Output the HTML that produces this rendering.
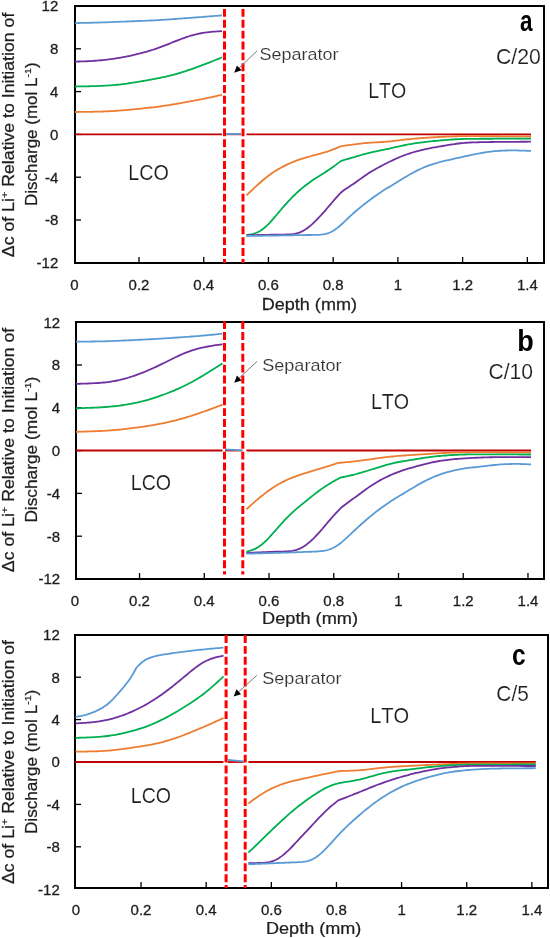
<!DOCTYPE html>
<html><head><meta charset="utf-8"><style>
html,body{margin:0;padding:0;background:#fff;}
svg{display:block;will-change:transform;font-family:"Liberation Sans",sans-serif;}
text{font-kerning:none;}
</style></head><body>
<svg width="550" height="938" viewBox="0 0 550 938">
<rect width="550" height="938" fill="#fff"/>
<rect x="75" y="6" width="469" height="257" fill="none" stroke="#000" stroke-width="2"/>
<line x1="139.02" y1="263" x2="139.02" y2="257" stroke="#000" stroke-width="1.3"/>
<line x1="203.74" y1="263" x2="203.74" y2="257" stroke="#000" stroke-width="1.3"/>
<line x1="268.46" y1="263" x2="268.46" y2="257" stroke="#000" stroke-width="1.3"/>
<line x1="333.18" y1="263" x2="333.18" y2="257" stroke="#000" stroke-width="1.3"/>
<line x1="397.90" y1="263" x2="397.90" y2="257" stroke="#000" stroke-width="1.3"/>
<line x1="462.62" y1="263" x2="462.62" y2="257" stroke="#000" stroke-width="1.3"/>
<line x1="527.34" y1="263" x2="527.34" y2="257" stroke="#000" stroke-width="1.3"/>
<line x1="75" y1="220.00" x2="81" y2="220.00" stroke="#000" stroke-width="1.3"/>
<line x1="75" y1="177.20" x2="81" y2="177.20" stroke="#000" stroke-width="1.3"/>
<line x1="75" y1="134.40" x2="81" y2="134.40" stroke="#000" stroke-width="1.3"/>
<line x1="75" y1="91.60" x2="81" y2="91.60" stroke="#000" stroke-width="1.3"/>
<line x1="75" y1="48.80" x2="81" y2="48.80" stroke="#000" stroke-width="1.3"/>
<path d="M75.0 134.30 L222.0 134.30" fill="none" stroke="#c00000" stroke-width="1.8"/>
<path d="M226.2 134.30 L240.9 134.30" fill="none" stroke="#c00000" stroke-width="1.8"/>
<path d="M246.5 134.30 L531.0 134.30" fill="none" stroke="#c00000" stroke-width="1.8"/>
<path d="M75.0 112.00 L77.0 111.98 L79.0 111.95 L81.0 111.93 L83.0 111.90 L85.0 111.87 L87.0 111.85 L89.0 111.82 L91.0 111.79 L93.0 111.75 L95.0 111.71 L97.0 111.67 L99.0 111.62 L101.0 111.56 L103.0 111.50 L105.0 111.42 L107.0 111.34 L109.0 111.25 L111.0 111.14 L113.0 111.03 L115.0 110.90 L117.0 110.76 L119.0 110.62 L121.0 110.47 L123.0 110.31 L125.0 110.14 L127.0 109.97 L129.0 109.79 L131.0 109.61 L133.0 109.42 L135.0 109.22 L137.0 109.03 L139.0 108.82 L141.0 108.62 L143.0 108.41 L145.0 108.19 L147.0 107.97 L149.0 107.74 L151.0 107.51 L153.0 107.27 L155.0 107.03 L157.0 106.78 L159.0 106.52 L161.0 106.25 L163.0 105.97 L165.0 105.68 L167.0 105.39 L169.0 105.08 L171.0 104.76 L173.0 104.43 L175.0 104.09 L177.0 103.74 L179.0 103.39 L181.0 103.03 L183.0 102.67 L185.0 102.31 L187.0 101.94 L189.0 101.57 L191.0 101.20 L193.0 100.83 L195.0 100.45 L197.0 100.08 L199.0 99.69 L201.0 99.31 L203.0 98.91 L205.0 98.51 L207.0 98.11 L209.0 97.69 L211.0 97.27 L213.0 96.83 L215.0 96.39 L217.0 95.94 L219.0 95.49 L221.0 95.03 L222.0 94.80" fill="none" stroke="#ed7d31" stroke-width="1.8" stroke-linejoin="round"/>
<path d="M246.5 195.30 L248.5 193.40 L250.5 191.50 L252.5 189.60 L254.5 187.71 L256.5 185.84 L258.5 184.00 L260.5 182.21 L262.5 180.47 L264.5 178.79 L266.5 177.20 L268.5 175.67 L270.5 174.23 L272.5 172.85 L274.5 171.55 L276.5 170.31 L278.5 169.12 L280.5 167.98 L282.5 166.90 L284.5 165.85 L286.5 164.85 L288.5 163.89 L290.5 162.98 L292.5 162.12 L294.5 161.31 L296.5 160.54 L298.5 159.83 L300.5 159.16 L302.5 158.53 L304.5 157.93 L306.5 157.36 L308.5 156.80 L310.5 156.25 L312.5 155.70 L314.5 155.16 L316.5 154.62 L318.5 154.08 L320.5 153.53 L322.5 152.98 L324.5 152.40 L326.5 151.80 L328.5 151.15 L330.5 150.45 L332.5 149.69 L334.5 148.89 L336.5 148.05 L338.5 147.18 L340.5 146.30 L342.5 146.02 L344.5 145.73 L346.5 145.45 L348.5 145.17 L350.5 144.90 L352.5 144.63 L354.5 144.36 L356.5 144.10 L358.5 143.86 L360.5 143.62 L362.5 143.40 L364.5 143.20 L366.5 143.02 L368.5 142.86 L370.5 142.72 L372.5 142.59 L374.5 142.47 L376.5 142.35 L378.5 142.24 L380.5 142.12 L382.5 141.99 L384.5 141.84 L386.5 141.67 L388.5 141.48 L390.5 141.28 L392.5 141.06 L394.5 140.83 L396.5 140.60 L398.5 140.36 L400.5 140.13 L402.5 139.90 L404.5 139.67 L406.5 139.46 L408.5 139.25 L410.5 139.05 L412.5 138.85 L414.5 138.67 L416.5 138.50 L418.5 138.33 L420.5 138.17 L422.5 138.02 L424.5 137.87 L426.5 137.74 L428.5 137.60 L430.5 137.48 L432.5 137.36 L434.5 137.24 L436.5 137.13 L438.5 137.02 L440.5 136.92 L442.5 136.82 L444.5 136.73 L446.5 136.64 L448.5 136.55 L450.5 136.47 L452.5 136.40 L454.5 136.33 L456.5 136.27 L458.5 136.22 L460.5 136.18 L462.5 136.14 L464.5 136.12 L466.5 136.11 L468.5 136.10 L470.5 136.10 L472.5 136.10 L474.5 136.10 L476.5 136.11 L478.5 136.12 L480.5 136.13 L482.5 136.14 L484.5 136.16 L486.5 136.17 L488.5 136.18 L490.5 136.20 L492.5 136.21 L494.5 136.22 L496.5 136.24 L498.5 136.25 L500.5 136.27 L502.5 136.29 L504.5 136.30 L506.5 136.32 L508.5 136.33 L510.5 136.35 L512.5 136.37 L514.5 136.38 L516.5 136.40 L518.5 136.41 L520.5 136.43 L522.5 136.44 L524.5 136.46 L526.5 136.47 L528.5 136.48 L530.5 136.50 L531.0 136.50" fill="none" stroke="#ed7d31" stroke-width="1.8" stroke-linejoin="round"/>
<path d="M75.0 86.50 L77.0 86.47 L79.0 86.43 L81.0 86.40 L83.0 86.36 L85.0 86.33 L87.0 86.29 L89.0 86.25 L91.0 86.20 L93.0 86.16 L95.0 86.10 L97.0 86.04 L99.0 85.97 L101.0 85.89 L103.0 85.80 L105.0 85.70 L107.0 85.58 L109.0 85.45 L111.0 85.30 L113.0 85.13 L115.0 84.95 L117.0 84.75 L119.0 84.54 L121.0 84.31 L123.0 84.07 L125.0 83.81 L127.0 83.54 L129.0 83.26 L131.0 82.97 L133.0 82.66 L135.0 82.35 L137.0 82.02 L139.0 81.69 L141.0 81.34 L143.0 80.99 L145.0 80.63 L147.0 80.27 L149.0 79.90 L151.0 79.53 L153.0 79.16 L155.0 78.78 L157.0 78.40 L159.0 78.01 L161.0 77.61 L163.0 77.19 L165.0 76.76 L167.0 76.31 L169.0 75.85 L171.0 75.36 L173.0 74.85 L175.0 74.32 L177.0 73.77 L179.0 73.19 L181.0 72.58 L183.0 71.96 L185.0 71.31 L187.0 70.65 L189.0 69.97 L191.0 69.28 L193.0 68.58 L195.0 67.87 L197.0 67.15 L199.0 66.43 L201.0 65.69 L203.0 64.95 L205.0 64.20 L207.0 63.43 L209.0 62.65 L211.0 61.85 L213.0 61.04 L215.0 60.23 L217.0 59.40 L219.0 58.56 L221.0 57.72 L222.0 57.30" fill="none" stroke="#00b050" stroke-width="1.8" stroke-linejoin="round"/>
<path d="M246.5 235.00 L248.5 234.75 L250.5 234.44 L252.5 234.04 L254.5 233.49 L256.5 232.77 L258.5 231.83 L260.5 230.69 L262.5 229.32 L264.5 227.74 L266.5 225.97 L268.5 224.02 L270.5 221.92 L272.5 219.70 L274.5 217.39 L276.5 215.04 L278.5 212.66 L280.5 210.28 L282.5 207.93 L284.5 205.62 L286.5 203.36 L288.5 201.16 L290.5 199.04 L292.5 196.98 L294.5 195.01 L296.5 193.11 L298.5 191.28 L300.5 189.53 L302.5 187.85 L304.5 186.23 L306.5 184.67 L308.5 183.17 L310.5 181.73 L312.5 180.34 L314.5 179.00 L316.5 177.70 L318.5 176.43 L320.5 175.17 L322.5 173.92 L324.5 172.65 L326.5 171.37 L328.5 170.05 L330.5 168.69 L332.5 167.29 L334.5 165.86 L336.5 164.39 L338.5 162.90 L340.5 161.40 L342.3 160.51 L344.3 159.94 L346.3 159.36 L348.3 158.78 L350.3 158.20 L352.3 157.61 L354.3 157.02 L356.3 156.43 L358.3 155.84 L360.3 155.25 L362.3 154.68 L364.3 154.13 L366.3 153.60 L368.3 153.10 L370.3 152.62 L372.3 152.16 L374.3 151.73 L376.3 151.31 L378.3 150.89 L380.3 150.48 L382.3 150.07 L384.3 149.64 L386.3 149.21 L388.3 148.77 L390.3 148.32 L392.3 147.86 L394.3 147.41 L396.3 146.96 L398.3 146.51 L400.3 146.08 L402.3 145.66 L404.3 145.25 L406.3 144.87 L408.3 144.49 L410.3 144.14 L412.3 143.80 L414.3 143.48 L416.3 143.18 L418.3 142.89 L420.3 142.61 L422.3 142.35 L424.3 142.10 L426.3 141.86 L428.3 141.63 L430.3 141.41 L432.3 141.20 L434.3 140.99 L436.3 140.80 L438.3 140.61 L440.3 140.43 L442.3 140.26 L444.3 140.09 L446.3 139.93 L448.3 139.78 L450.3 139.63 L452.3 139.50 L454.3 139.37 L456.3 139.26 L458.3 139.16 L460.3 139.07 L462.3 139.00 L464.3 138.94 L466.3 138.90 L468.3 138.86 L470.3 138.84 L472.3 138.82 L474.3 138.80 L476.3 138.79 L478.3 138.78 L480.3 138.77 L482.3 138.76 L484.3 138.76 L486.3 138.75 L488.3 138.74 L490.3 138.73 L492.3 138.73 L494.3 138.72 L496.3 138.71 L498.3 138.71 L500.3 138.70 L502.3 138.69 L504.3 138.69 L506.3 138.68 L508.3 138.68 L510.3 138.67 L512.3 138.66 L514.3 138.66 L516.3 138.65 L518.3 138.65 L520.3 138.64 L522.3 138.63 L524.3 138.63 L526.3 138.62 L528.3 138.61 L530.3 138.60 L531.0 138.60" fill="none" stroke="#00b050" stroke-width="1.8" stroke-linejoin="round"/>
<path d="M75.0 61.60 L77.0 61.55 L79.0 61.50 L81.0 61.45 L83.0 61.38 L85.0 61.31 L87.0 61.23 L89.0 61.14 L91.0 61.03 L93.0 60.90 L95.0 60.76 L97.0 60.61 L99.0 60.44 L101.0 60.25 L103.0 60.05 L105.0 59.84 L107.0 59.61 L109.0 59.36 L111.0 59.10 L113.0 58.83 L115.0 58.54 L117.0 58.23 L119.0 57.90 L121.0 57.56 L123.0 57.20 L125.0 56.82 L127.0 56.42 L129.0 56.01 L131.0 55.58 L133.0 55.13 L135.0 54.66 L137.0 54.18 L139.0 53.68 L141.0 53.17 L143.0 52.64 L145.0 52.10 L147.0 51.54 L149.0 50.97 L151.0 50.37 L153.0 49.75 L155.0 49.10 L157.0 48.42 L159.0 47.70 L161.0 46.96 L163.0 46.20 L165.0 45.42 L167.0 44.62 L169.0 43.81 L171.0 43.00 L173.0 42.19 L175.0 41.38 L177.0 40.58 L179.0 39.80 L181.0 39.03 L183.0 38.29 L185.0 37.57 L187.0 36.89 L189.0 36.24 L191.0 35.63 L193.0 35.06 L195.0 34.54 L197.0 34.07 L199.0 33.63 L201.0 33.25 L203.0 32.90 L205.0 32.60 L207.0 32.33 L209.0 32.10 L211.0 31.89 L213.0 31.71 L215.0 31.55 L217.0 31.41 L219.0 31.28 L221.0 31.16 L222.0 31.10" fill="none" stroke="#7030a0" stroke-width="1.8" stroke-linejoin="round"/>
<path d="M246.5 235.30 L248.5 235.24 L250.5 235.19 L252.5 235.14 L254.5 235.09 L256.5 235.04 L258.5 234.99 L260.5 234.95 L262.5 234.91 L264.5 234.87 L266.5 234.83 L268.5 234.79 L270.5 234.76 L272.5 234.72 L274.5 234.69 L276.5 234.66 L278.5 234.63 L280.5 234.61 L282.5 234.58 L284.5 234.54 L286.5 234.49 L288.5 234.41 L290.5 234.28 L292.5 234.09 L294.5 233.80 L296.5 233.39 L298.5 232.82 L300.5 232.08 L302.5 231.14 L304.5 230.01 L306.5 228.70 L308.5 227.23 L310.5 225.60 L312.5 223.84 L314.5 221.96 L316.5 219.98 L318.5 217.90 L320.5 215.75 L322.5 213.54 L324.5 211.28 L326.5 208.98 L328.5 206.66 L330.5 204.33 L332.5 202.01 L334.5 199.71 L336.5 197.44 L338.5 195.21 L340.5 193.00 L342.5 191.22 L344.5 189.86 L346.5 188.52 L348.5 187.20 L350.5 185.87 L352.5 184.53 L354.5 183.16 L356.5 181.76 L358.5 180.33 L360.5 178.89 L362.5 177.46 L364.5 176.05 L366.5 174.68 L368.5 173.35 L370.5 172.07 L372.5 170.85 L374.5 169.67 L376.5 168.53 L378.5 167.42 L380.5 166.35 L382.5 165.30 L384.5 164.27 L386.5 163.26 L388.5 162.27 L390.5 161.30 L392.5 160.35 L394.5 159.42 L396.5 158.52 L398.5 157.64 L400.5 156.79 L402.5 155.98 L404.5 155.21 L406.5 154.47 L408.5 153.77 L410.5 153.12 L412.5 152.50 L414.5 151.91 L416.5 151.36 L418.5 150.83 L420.5 150.33 L422.5 149.84 L424.5 149.38 L426.5 148.94 L428.5 148.52 L430.5 148.11 L432.5 147.73 L434.5 147.37 L436.5 147.02 L438.5 146.67 L440.5 146.33 L442.5 145.99 L444.5 145.65 L446.5 145.31 L448.5 144.98 L450.5 144.65 L452.5 144.33 L454.5 144.03 L456.5 143.74 L458.5 143.49 L460.5 143.26 L462.5 143.06 L464.5 142.89 L466.5 142.74 L468.5 142.62 L470.5 142.52 L472.5 142.43 L474.5 142.36 L476.5 142.29 L478.5 142.24 L480.5 142.19 L482.5 142.14 L484.5 142.10 L486.5 142.07 L488.5 142.03 L490.5 142.01 L492.5 141.98 L494.5 141.96 L496.5 141.93 L498.5 141.92 L500.5 141.90 L502.5 141.88 L504.5 141.87 L506.5 141.85 L508.5 141.84 L510.5 141.83 L512.5 141.81 L514.5 141.80 L516.5 141.79 L518.5 141.78 L520.5 141.77 L522.5 141.75 L524.5 141.74 L526.5 141.73 L528.5 141.72 L530.5 141.70 L531.0 141.70" fill="none" stroke="#7030a0" stroke-width="1.8" stroke-linejoin="round"/>
<path d="M75.0 23.10 L77.0 23.06 L79.0 23.01 L81.0 22.97 L83.0 22.93 L85.0 22.88 L87.0 22.84 L89.0 22.79 L91.0 22.74 L93.0 22.69 L95.0 22.64 L97.0 22.59 L99.0 22.53 L101.0 22.47 L103.0 22.41 L105.0 22.34 L107.0 22.28 L109.0 22.20 L111.0 22.13 L113.0 22.05 L115.0 21.97 L117.0 21.89 L119.0 21.81 L121.0 21.72 L123.0 21.64 L125.0 21.56 L127.0 21.48 L129.0 21.40 L131.0 21.32 L133.0 21.24 L135.0 21.16 L137.0 21.09 L139.0 21.01 L141.0 20.94 L143.0 20.86 L145.0 20.78 L147.0 20.70 L149.0 20.61 L151.0 20.51 L153.0 20.41 L155.0 20.31 L157.0 20.20 L159.0 20.08 L161.0 19.96 L163.0 19.84 L165.0 19.71 L167.0 19.57 L169.0 19.43 L171.0 19.29 L173.0 19.15 L175.0 19.01 L177.0 18.86 L179.0 18.71 L181.0 18.57 L183.0 18.42 L185.0 18.27 L187.0 18.12 L189.0 17.97 L191.0 17.81 L193.0 17.66 L195.0 17.51 L197.0 17.35 L199.0 17.20 L201.0 17.05 L203.0 16.89 L205.0 16.73 L207.0 16.58 L209.0 16.42 L211.0 16.27 L213.0 16.11 L215.0 15.95 L217.0 15.79 L219.0 15.64 L221.0 15.48 L222.0 15.40" fill="none" stroke="#5b9bd5" stroke-width="1.8" stroke-linejoin="round"/>
<path d="M226.2 134.00 L240.9 134.00" fill="none" stroke="#5b9bd5" stroke-width="1.8"/>
<path d="M246.5 236.00 L248.5 235.96 L250.5 235.93 L252.5 235.89 L254.5 235.86 L256.5 235.82 L258.5 235.79 L260.5 235.76 L262.5 235.73 L264.5 235.70 L266.5 235.67 L268.5 235.64 L270.5 235.61 L272.5 235.58 L274.5 235.56 L276.5 235.53 L278.5 235.50 L280.5 235.47 L282.5 235.43 L284.5 235.40 L286.5 235.37 L288.5 235.33 L290.5 235.30 L292.5 235.26 L294.5 235.22 L296.5 235.18 L298.5 235.14 L300.5 235.11 L302.5 235.07 L304.5 235.04 L306.5 235.02 L308.5 235.00 L310.5 234.98 L312.5 234.96 L314.5 234.93 L316.5 234.88 L318.5 234.80 L320.5 234.67 L322.5 234.45 L324.5 234.13 L326.5 233.68 L328.5 233.05 L330.5 232.24 L332.5 231.22 L334.5 230.00 L336.5 228.58 L338.5 226.99 L340.5 225.27 L342.5 223.46 L344.5 221.58 L346.5 219.68 L348.5 217.77 L350.5 215.89 L352.5 214.06 L354.5 212.28 L356.5 210.55 L358.5 208.87 L360.5 207.24 L362.5 205.65 L364.5 204.08 L366.5 202.52 L368.5 200.99 L370.5 199.49 L372.5 198.00 L374.5 196.55 L376.5 195.14 L378.5 193.76 L380.5 192.42 L382.5 191.11 L384.5 189.84 L386.5 188.60 L388.5 187.38 L390.5 186.16 L392.5 184.95 L394.5 183.74 L396.5 182.51 L398.5 181.27 L400.5 180.03 L402.5 178.80 L404.5 177.59 L406.5 176.40 L408.5 175.23 L410.5 174.09 L412.5 172.98 L414.5 171.91 L416.5 170.88 L418.5 169.89 L420.5 168.95 L422.5 168.05 L424.5 167.20 L426.5 166.40 L428.5 165.65 L430.5 164.95 L432.5 164.28 L434.5 163.65 L436.5 163.06 L438.5 162.50 L440.5 161.97 L442.5 161.45 L444.5 160.96 L446.5 160.49 L448.5 160.02 L450.5 159.57 L452.5 159.12 L454.5 158.67 L456.5 158.23 L458.5 157.79 L460.5 157.34 L462.5 156.89 L464.5 156.45 L466.5 156.00 L468.5 155.56 L470.5 155.13 L472.5 154.71 L474.5 154.30 L476.5 153.90 L478.5 153.52 L480.5 153.16 L482.5 152.81 L484.5 152.49 L486.5 152.19 L488.5 151.91 L490.5 151.66 L492.5 151.43 L494.5 151.22 L496.5 151.04 L498.5 150.89 L500.5 150.76 L502.5 150.65 L504.5 150.57 L506.5 150.51 L508.5 150.47 L510.5 150.45 L512.5 150.44 L514.5 150.45 L516.5 150.47 L518.5 150.50 L520.5 150.54 L522.5 150.60 L524.5 150.67 L526.5 150.76 L528.5 150.87 L530.5 150.97 L531.0 151.00" fill="none" stroke="#5b9bd5" stroke-width="1.8" stroke-linejoin="round"/>
<line x1="224.5" y1="8.9" x2="224.5" y2="263" stroke="#ff0000" stroke-width="3" stroke-dasharray="7.9 2.97"/>
<line x1="243.0" y1="8.9" x2="243.0" y2="263" stroke="#ff0000" stroke-width="3" stroke-dasharray="7.9 2.97"/>
<text x="74.30" y="289.6" text-anchor="middle" font-size="15" fill="#1e1e1e" stroke="#1e1e1e" stroke-width="0.3">0</text>
<text x="139.02" y="289.6" text-anchor="middle" font-size="15" fill="#1e1e1e" stroke="#1e1e1e" stroke-width="0.3">0.2</text>
<text x="203.74" y="289.6" text-anchor="middle" font-size="15" fill="#1e1e1e" stroke="#1e1e1e" stroke-width="0.3">0.4</text>
<text x="268.46" y="289.6" text-anchor="middle" font-size="15" fill="#1e1e1e" stroke="#1e1e1e" stroke-width="0.3">0.6</text>
<text x="333.18" y="289.6" text-anchor="middle" font-size="15" fill="#1e1e1e" stroke="#1e1e1e" stroke-width="0.3">0.8</text>
<text x="397.90" y="289.6" text-anchor="middle" font-size="15" fill="#1e1e1e" stroke="#1e1e1e" stroke-width="0.3">1</text>
<text x="462.62" y="289.6" text-anchor="middle" font-size="15" fill="#1e1e1e" stroke="#1e1e1e" stroke-width="0.3">1.2</text>
<text x="527.34" y="289.6" text-anchor="middle" font-size="15" fill="#1e1e1e" stroke="#1e1e1e" stroke-width="0.3">1.4</text>
<text x="58.3" y="268.20" text-anchor="end" font-size="15" fill="#1e1e1e" stroke="#1e1e1e" stroke-width="0.3">-12</text>
<text x="58.3" y="225.40" text-anchor="end" font-size="15" fill="#1e1e1e" stroke="#1e1e1e" stroke-width="0.3">-8</text>
<text x="58.3" y="182.60" text-anchor="end" font-size="15" fill="#1e1e1e" stroke="#1e1e1e" stroke-width="0.3">-4</text>
<text x="58.3" y="139.80" text-anchor="end" font-size="15" fill="#1e1e1e" stroke="#1e1e1e" stroke-width="0.3">0</text>
<text x="58.3" y="97.00" text-anchor="end" font-size="15" fill="#1e1e1e" stroke="#1e1e1e" stroke-width="0.3">4</text>
<text x="58.3" y="54.20" text-anchor="end" font-size="15" fill="#1e1e1e" stroke="#1e1e1e" stroke-width="0.3">8</text>
<text x="58.3" y="11.40" text-anchor="end" font-size="15" fill="#1e1e1e" stroke="#1e1e1e" stroke-width="0.3">12</text>
<text transform="matrix(0.7502 0 0 1 520.04 31.00)" font-size="30" font-weight="bold" fill="#000" >a</text>
<text transform="matrix(0.9889 0 0 1 495.92 63.60)" font-size="21.5" font-weight="normal" fill="#1e1e1e" stroke="#fff" stroke-width="0.15">C/20</text>
<text transform="matrix(1.0584 0 0 1 259.38 60.20)" font-size="17" font-weight="normal" fill="#333333" stroke="#fff" stroke-width="0.15">Separator</text>
<text transform="matrix(0.9098 0 0 1 368.20 98.20)" font-size="21.5" font-weight="normal" fill="#1e1e1e" stroke="#fff" stroke-width="0.15">LTO</text>
<text transform="matrix(0.9175 0 0 1 128.18 180.20)" font-size="21.5" font-weight="normal" fill="#1e1e1e" stroke="#fff" stroke-width="0.15">LCO</text>
<text transform="matrix(1.0942 0 0 1 261.72 310.30)" font-size="16.5" font-weight="normal" fill="#1e1e1e" stroke="#1e1e1e" stroke-width="0.25">Depth (mm)</text>
<line x1="257" y1="50.9" x2="239.26" y2="67.86" stroke="#7a7a7a" stroke-width="1"/><path d="M234.2 72.7 L236.91 65.40 L241.61 70.32 Z" fill="#000"/>
<text transform="translate(13.70 257.13) rotate(-90) scale(1.1211 1)" font-size="15.8" fill="#1e1e1e" stroke="#1e1e1e" stroke-width="0.25"><tspan font-size="15.80" dy="0.00">Δc of Li</tspan><tspan font-size="9.80" dy="-6.00">+</tspan><tspan font-size="15.80" dy="6.00"> Relative to Initiation of</tspan></text>
<text transform="translate(36.80 206.00) rotate(-90) scale(1.0769 1)" font-size="15.8" fill="#1e1e1e" stroke="#1e1e1e" stroke-width="0.25"><tspan font-size="15.80" dy="0.00">Discharge (mol L</tspan><tspan font-size="9.80" dy="-6.00">-1</tspan><tspan font-size="15.80" dy="6.00">)</tspan></text>
<rect x="76" y="322" width="468" height="257" fill="none" stroke="#000" stroke-width="2"/>
<line x1="139.54" y1="579" x2="139.54" y2="573" stroke="#000" stroke-width="1.3"/>
<line x1="204.28" y1="579" x2="204.28" y2="573" stroke="#000" stroke-width="1.3"/>
<line x1="269.02" y1="579" x2="269.02" y2="573" stroke="#000" stroke-width="1.3"/>
<line x1="333.76" y1="579" x2="333.76" y2="573" stroke="#000" stroke-width="1.3"/>
<line x1="398.50" y1="579" x2="398.50" y2="573" stroke="#000" stroke-width="1.3"/>
<line x1="463.24" y1="579" x2="463.24" y2="573" stroke="#000" stroke-width="1.3"/>
<line x1="527.98" y1="579" x2="527.98" y2="573" stroke="#000" stroke-width="1.3"/>
<line x1="76" y1="536.20" x2="82" y2="536.20" stroke="#000" stroke-width="1.3"/>
<line x1="76" y1="493.40" x2="82" y2="493.40" stroke="#000" stroke-width="1.3"/>
<line x1="76" y1="450.60" x2="82" y2="450.60" stroke="#000" stroke-width="1.3"/>
<line x1="76" y1="407.80" x2="82" y2="407.80" stroke="#000" stroke-width="1.3"/>
<line x1="76" y1="365.00" x2="82" y2="365.00" stroke="#000" stroke-width="1.3"/>
<path d="M76.0 450.50 L222.5 450.50" fill="none" stroke="#c00000" stroke-width="1.8"/>
<path d="M225.0 450.50 L242.3 450.50" fill="none" stroke="#c00000" stroke-width="1.8"/>
<path d="M246.4 450.50 L531.0 450.50" fill="none" stroke="#c00000" stroke-width="1.8"/>
<path d="M76.0 431.80 L78.0 431.74 L80.0 431.69 L82.0 431.63 L84.0 431.58 L86.0 431.52 L88.0 431.46 L90.0 431.40 L92.0 431.33 L94.0 431.26 L96.0 431.19 L98.0 431.11 L100.0 431.02 L102.0 430.92 L104.0 430.81 L106.0 430.70 L108.0 430.57 L110.0 430.43 L112.0 430.27 L114.0 430.11 L116.0 429.93 L118.0 429.75 L120.0 429.55 L122.0 429.34 L124.0 429.12 L126.0 428.90 L128.0 428.67 L130.0 428.43 L132.0 428.18 L134.0 427.93 L136.0 427.67 L138.0 427.40 L140.0 427.13 L142.0 426.84 L144.0 426.55 L146.0 426.25 L148.0 425.94 L150.0 425.62 L152.0 425.29 L154.0 424.94 L156.0 424.59 L158.0 424.22 L160.0 423.84 L162.0 423.44 L164.0 423.03 L166.0 422.61 L168.0 422.17 L170.0 421.71 L172.0 421.24 L174.0 420.76 L176.0 420.26 L178.0 419.74 L180.0 419.20 L182.0 418.64 L184.0 418.07 L186.0 417.48 L188.0 416.87 L190.0 416.25 L192.0 415.61 L194.0 414.95 L196.0 414.29 L198.0 413.61 L200.0 412.92 L202.0 412.22 L204.0 411.51 L206.0 410.80 L208.0 410.07 L210.0 409.34 L212.0 408.60 L214.0 407.85 L216.0 407.09 L218.0 406.33 L220.0 405.56 L222.0 404.79 L222.5 404.60" fill="none" stroke="#ed7d31" stroke-width="1.8" stroke-linejoin="round"/>
<path d="M246.4 509.30 L248.4 507.49 L250.4 505.68 L252.4 503.90 L254.4 502.14 L256.4 500.41 L258.4 498.71 L260.4 497.05 L262.4 495.43 L264.4 493.85 L266.4 492.31 L268.4 490.83 L270.4 489.40 L272.4 488.03 L274.4 486.73 L276.4 485.48 L278.4 484.30 L280.4 483.18 L282.4 482.12 L284.4 481.11 L286.4 480.16 L288.4 479.27 L290.4 478.41 L292.4 477.61 L294.4 476.84 L296.4 476.11 L298.4 475.40 L300.4 474.72 L302.4 474.06 L304.4 473.42 L306.4 472.79 L308.4 472.16 L310.4 471.55 L312.4 470.94 L314.4 470.33 L316.4 469.73 L318.4 469.13 L320.4 468.53 L322.4 467.93 L324.4 467.32 L326.4 466.71 L328.4 466.09 L330.4 465.45 L332.4 464.81 L334.4 464.16 L336.4 463.50 L338.2 462.90 L340.2 462.73 L342.2 462.56 L344.2 462.39 L346.2 462.22 L348.2 462.04 L350.2 461.86 L352.2 461.66 L354.2 461.45 L356.2 461.22 L358.2 460.98 L360.2 460.72 L362.2 460.45 L364.2 460.17 L366.2 459.89 L368.2 459.61 L370.2 459.32 L372.2 459.04 L374.2 458.76 L376.2 458.48 L378.2 458.21 L380.2 457.94 L382.2 457.68 L384.2 457.43 L386.2 457.19 L388.2 456.95 L390.2 456.73 L392.2 456.52 L394.2 456.32 L396.2 456.13 L398.2 455.96 L400.2 455.79 L402.2 455.64 L404.2 455.49 L406.2 455.35 L408.2 455.22 L410.2 455.09 L412.2 454.96 L414.2 454.83 L416.2 454.70 L418.2 454.57 L420.2 454.44 L422.2 454.31 L424.2 454.18 L426.2 454.05 L428.2 453.92 L430.2 453.80 L432.2 453.68 L434.2 453.56 L436.2 453.44 L438.2 453.33 L440.2 453.22 L442.2 453.11 L444.2 453.01 L446.2 452.91 L448.2 452.82 L450.2 452.73 L452.2 452.65 L454.2 452.57 L456.2 452.50 L458.2 452.44 L460.2 452.38 L462.2 452.33 L464.2 452.29 L466.2 452.26 L468.2 452.23 L470.2 452.21 L472.2 452.20 L474.2 452.19 L476.2 452.19 L478.2 452.19 L480.2 452.19 L482.2 452.20 L484.2 452.20 L486.2 452.21 L488.2 452.21 L490.2 452.22 L492.2 452.22 L494.2 452.22 L496.2 452.23 L498.2 452.23 L500.2 452.24 L502.2 452.24 L504.2 452.25 L506.2 452.25 L508.2 452.25 L510.2 452.26 L512.2 452.26 L514.2 452.27 L516.2 452.27 L518.2 452.28 L520.2 452.28 L522.2 452.28 L524.2 452.29 L526.2 452.29 L528.2 452.29 L530.2 452.30 L531.0 452.30" fill="none" stroke="#ed7d31" stroke-width="1.8" stroke-linejoin="round"/>
<path d="M76.0 408.30 L78.0 408.23 L80.0 408.17 L82.0 408.10 L84.0 408.04 L86.0 407.97 L88.0 407.90 L90.0 407.83 L92.0 407.75 L94.0 407.67 L96.0 407.58 L98.0 407.48 L100.0 407.38 L102.0 407.26 L104.0 407.13 L106.0 406.99 L108.0 406.83 L110.0 406.65 L112.0 406.46 L114.0 406.25 L116.0 406.03 L118.0 405.78 L120.0 405.52 L122.0 405.24 L124.0 404.94 L126.0 404.63 L128.0 404.29 L130.0 403.94 L132.0 403.57 L134.0 403.18 L136.0 402.76 L138.0 402.32 L140.0 401.86 L142.0 401.37 L144.0 400.86 L146.0 400.32 L148.0 399.76 L150.0 399.17 L152.0 398.56 L154.0 397.93 L156.0 397.28 L158.0 396.61 L160.0 395.92 L162.0 395.21 L164.0 394.48 L166.0 393.73 L168.0 392.97 L170.0 392.18 L172.0 391.38 L174.0 390.55 L176.0 389.70 L178.0 388.82 L180.0 387.92 L182.0 386.99 L184.0 386.03 L186.0 385.05 L188.0 384.03 L190.0 382.99 L192.0 381.92 L194.0 380.82 L196.0 379.70 L198.0 378.56 L200.0 377.39 L202.0 376.20 L204.0 375.00 L206.0 373.78 L208.0 372.55 L210.0 371.31 L212.0 370.06 L214.0 368.80 L216.0 367.53 L218.0 366.27 L220.0 364.99 L222.0 363.72 L222.5 363.40" fill="none" stroke="#00b050" stroke-width="1.8" stroke-linejoin="round"/>
<path d="M246.4 551.51 L248.4 551.03 L250.4 550.50 L252.4 549.88 L254.4 549.10 L256.4 548.15 L258.4 546.98 L260.4 545.61 L262.4 544.02 L264.4 542.25 L266.4 540.31 L268.4 538.26 L270.4 536.11 L272.4 533.89 L274.4 531.64 L276.4 529.38 L278.4 527.11 L280.4 524.87 L282.4 522.65 L284.4 520.48 L286.4 518.37 L288.4 516.32 L290.4 514.36 L292.4 512.47 L294.4 510.67 L296.4 508.94 L298.4 507.27 L300.4 505.63 L302.4 504.02 L304.4 502.40 L306.4 500.78 L308.4 499.15 L310.4 497.53 L312.4 495.92 L314.4 494.33 L316.4 492.79 L318.4 491.28 L320.4 489.81 L322.4 488.39 L324.4 487.02 L326.4 485.70 L328.4 484.43 L330.4 483.20 L332.4 482.02 L334.4 480.89 L336.4 479.79 L338.4 478.71 L340.4 477.65 L341.5 477.40 L343.5 477.00 L345.5 476.58 L347.5 476.16 L349.5 475.72 L351.5 475.25 L353.5 474.76 L355.5 474.25 L357.5 473.71 L359.5 473.15 L361.5 472.57 L363.5 471.97 L365.5 471.37 L367.5 470.75 L369.5 470.13 L371.5 469.51 L373.5 468.89 L375.5 468.27 L377.5 467.65 L379.5 467.03 L381.5 466.42 L383.5 465.82 L385.5 465.23 L387.5 464.67 L389.5 464.12 L391.5 463.61 L393.5 463.12 L395.5 462.67 L397.5 462.25 L399.5 461.87 L401.5 461.51 L403.5 461.17 L405.5 460.85 L407.5 460.54 L409.5 460.22 L411.5 459.90 L413.5 459.58 L415.5 459.24 L417.5 458.91 L419.5 458.58 L421.5 458.26 L423.5 457.95 L425.5 457.65 L427.5 457.36 L429.5 457.10 L431.5 456.84 L433.5 456.61 L435.5 456.38 L437.5 456.18 L439.5 455.99 L441.5 455.81 L443.5 455.64 L445.5 455.49 L447.5 455.35 L449.5 455.22 L451.5 455.10 L453.5 454.98 L455.5 454.88 L457.5 454.79 L459.5 454.70 L461.5 454.62 L463.5 454.56 L465.5 454.50 L467.5 454.46 L469.5 454.43 L471.5 454.41 L473.5 454.40 L475.5 454.39 L477.5 454.39 L479.5 454.39 L481.5 454.39 L483.5 454.40 L485.5 454.40 L487.5 454.41 L489.5 454.41 L491.5 454.42 L493.5 454.42 L495.5 454.43 L497.5 454.43 L499.5 454.44 L501.5 454.44 L503.5 454.44 L505.5 454.45 L507.5 454.45 L509.5 454.46 L511.5 454.46 L513.5 454.47 L515.5 454.47 L517.5 454.47 L519.5 454.48 L521.5 454.48 L523.5 454.49 L525.5 454.49 L527.5 454.49 L529.5 454.50 L531.0 454.50" fill="none" stroke="#00b050" stroke-width="1.8" stroke-linejoin="round"/>
<path d="M76.0 383.90 L78.0 383.83 L80.0 383.77 L82.0 383.70 L84.0 383.63 L86.0 383.56 L88.0 383.48 L90.0 383.40 L92.0 383.32 L94.0 383.22 L96.0 383.11 L98.0 382.99 L100.0 382.85 L102.0 382.69 L104.0 382.51 L106.0 382.30 L108.0 382.05 L110.0 381.78 L112.0 381.47 L114.0 381.13 L116.0 380.75 L118.0 380.33 L120.0 379.89 L122.0 379.40 L124.0 378.89 L126.0 378.34 L128.0 377.76 L130.0 377.15 L132.0 376.51 L134.0 375.83 L136.0 375.13 L138.0 374.40 L140.0 373.65 L142.0 372.87 L144.0 372.07 L146.0 371.25 L148.0 370.41 L150.0 369.54 L152.0 368.65 L154.0 367.74 L156.0 366.81 L158.0 365.87 L160.0 364.90 L162.0 363.93 L164.0 362.94 L166.0 361.95 L168.0 360.95 L170.0 359.95 L172.0 358.96 L174.0 357.98 L176.0 357.01 L178.0 356.07 L180.0 355.15 L182.0 354.27 L184.0 353.42 L186.0 352.60 L188.0 351.83 L190.0 351.11 L192.0 350.43 L194.0 349.80 L196.0 349.22 L198.0 348.67 L200.0 348.17 L202.0 347.71 L204.0 347.28 L206.0 346.87 L208.0 346.50 L210.0 346.14 L212.0 345.80 L214.0 345.48 L216.0 345.17 L218.0 344.87 L220.0 344.57 L222.0 344.27 L222.5 344.20" fill="none" stroke="#7030a0" stroke-width="1.8" stroke-linejoin="round"/>
<path d="M246.4 552.90 L248.4 552.82 L250.4 552.73 L252.4 552.65 L254.4 552.56 L256.4 552.48 L258.4 552.39 L260.4 552.31 L262.4 552.23 L264.4 552.14 L266.4 552.06 L268.4 551.98 L270.4 551.90 L272.4 551.83 L274.4 551.76 L276.4 551.70 L278.4 551.65 L280.4 551.59 L282.4 551.54 L284.4 551.47 L286.4 551.38 L288.4 551.25 L290.4 551.07 L292.4 550.79 L294.4 550.41 L296.4 549.89 L298.4 549.20 L300.4 548.34 L302.4 547.28 L304.4 546.05 L306.4 544.64 L308.4 543.08 L310.4 541.37 L312.4 539.52 L314.4 537.55 L316.4 535.46 L318.4 533.29 L320.4 531.04 L322.4 528.73 L324.4 526.38 L326.4 524.02 L328.4 521.65 L330.4 519.31 L332.4 517.02 L334.4 514.79 L336.4 512.62 L338.4 510.51 L340.4 508.42 L342.0 507.03 L344.0 505.49 L346.0 503.97 L348.0 502.48 L350.0 501.01 L352.0 499.56 L354.0 498.13 L356.0 496.69 L358.0 495.23 L360.0 493.76 L362.0 492.27 L364.0 490.78 L366.0 489.32 L368.0 487.89 L370.0 486.50 L372.0 485.17 L374.0 483.89 L376.0 482.67 L378.0 481.50 L380.0 480.39 L382.0 479.32 L384.0 478.29 L386.0 477.30 L388.0 476.34 L390.0 475.41 L392.0 474.51 L394.0 473.65 L396.0 472.83 L398.0 472.05 L400.0 471.32 L402.0 470.62 L404.0 469.96 L406.0 469.33 L408.0 468.73 L410.0 468.14 L412.0 467.57 L414.0 467.01 L416.0 466.46 L418.0 465.91 L420.0 465.38 L422.0 464.85 L424.0 464.33 L426.0 463.82 L428.0 463.33 L430.0 462.86 L432.0 462.42 L434.0 462.00 L436.0 461.61 L438.0 461.25 L440.0 460.91 L442.0 460.60 L444.0 460.31 L446.0 460.04 L448.0 459.80 L450.0 459.57 L452.0 459.36 L454.0 459.17 L456.0 459.00 L458.0 458.84 L460.0 458.69 L462.0 458.55 L464.0 458.42 L466.0 458.30 L468.0 458.19 L470.0 458.08 L472.0 457.97 L474.0 457.87 L476.0 457.77 L478.0 457.68 L480.0 457.59 L482.0 457.51 L484.0 457.44 L486.0 457.37 L488.0 457.32 L490.0 457.27 L492.0 457.24 L494.0 457.22 L496.0 457.20 L498.0 457.19 L500.0 457.19 L502.0 457.19 L504.0 457.19 L506.0 457.19 L508.0 457.19 L510.0 457.19 L512.0 457.20 L514.0 457.20 L516.0 457.20 L518.0 457.20 L520.0 457.20 L522.0 457.20 L524.0 457.20 L526.0 457.20 L528.0 457.20 L530.0 457.20 L531.0 457.20" fill="none" stroke="#7030a0" stroke-width="1.8" stroke-linejoin="round"/>
<path d="M76.0 341.70 L78.0 341.68 L80.0 341.66 L82.0 341.64 L84.0 341.61 L86.0 341.59 L88.0 341.57 L90.0 341.54 L92.0 341.52 L94.0 341.49 L96.0 341.46 L98.0 341.42 L100.0 341.39 L102.0 341.34 L104.0 341.29 L106.0 341.24 L108.0 341.18 L110.0 341.11 L112.0 341.04 L114.0 340.97 L116.0 340.88 L118.0 340.80 L120.0 340.71 L122.0 340.61 L124.0 340.52 L126.0 340.42 L128.0 340.33 L130.0 340.23 L132.0 340.14 L134.0 340.04 L136.0 339.95 L138.0 339.85 L140.0 339.76 L142.0 339.67 L144.0 339.57 L146.0 339.47 L148.0 339.37 L150.0 339.27 L152.0 339.17 L154.0 339.05 L156.0 338.94 L158.0 338.82 L160.0 338.70 L162.0 338.58 L164.0 338.45 L166.0 338.32 L168.0 338.18 L170.0 338.05 L172.0 337.91 L174.0 337.77 L176.0 337.63 L178.0 337.49 L180.0 337.35 L182.0 337.21 L184.0 337.07 L186.0 336.93 L188.0 336.79 L190.0 336.64 L192.0 336.49 L194.0 336.34 L196.0 336.19 L198.0 336.03 L200.0 335.87 L202.0 335.70 L204.0 335.52 L206.0 335.34 L208.0 335.15 L210.0 334.95 L212.0 334.75 L214.0 334.54 L216.0 334.32 L218.0 334.10 L220.0 333.88 L222.0 333.66 L222.5 333.60" fill="none" stroke="#5b9bd5" stroke-width="1.8" stroke-linejoin="round"/>
<path d="M225.0 449.40 L242.3 450.30" fill="none" stroke="#5b9bd5" stroke-width="1.8"/>
<path d="M246.4 553.70 L248.4 553.64 L250.4 553.59 L252.4 553.53 L254.4 553.48 L256.4 553.42 L258.4 553.37 L260.4 553.32 L262.4 553.27 L264.4 553.22 L266.4 553.16 L268.4 553.11 L270.4 553.06 L272.4 553.01 L274.4 552.95 L276.4 552.90 L278.4 552.84 L280.4 552.79 L282.4 552.72 L284.4 552.66 L286.4 552.60 L288.4 552.53 L290.4 552.46 L292.4 552.39 L294.4 552.32 L296.4 552.24 L298.4 552.17 L300.4 552.10 L302.4 552.03 L304.4 551.96 L306.4 551.89 L308.4 551.82 L310.4 551.76 L312.4 551.68 L314.4 551.60 L316.4 551.50 L318.4 551.38 L320.4 551.21 L322.4 550.99 L324.4 550.68 L326.4 550.28 L328.4 549.75 L330.4 549.07 L332.4 548.23 L334.4 547.22 L336.4 546.05 L338.4 544.70 L340.4 543.21 L342.4 541.58 L344.4 539.85 L346.4 538.05 L348.4 536.19 L350.4 534.31 L352.4 532.41 L354.4 530.52 L356.4 528.65 L358.4 526.81 L360.4 525.00 L362.4 523.22 L364.4 521.47 L366.4 519.74 L368.4 518.04 L370.4 516.36 L372.4 514.71 L374.4 513.10 L376.4 511.52 L378.4 509.99 L380.4 508.50 L382.4 507.05 L384.4 505.64 L386.4 504.26 L388.4 502.91 L390.4 501.59 L392.4 500.30 L394.4 499.03 L396.4 497.78 L398.4 496.54 L400.4 495.33 L402.4 494.12 L404.4 492.92 L406.4 491.73 L408.4 490.54 L410.4 489.35 L412.4 488.16 L414.4 486.98 L416.4 485.80 L418.4 484.65 L420.4 483.52 L422.4 482.41 L424.4 481.35 L426.4 480.32 L428.4 479.33 L430.4 478.39 L432.4 477.49 L434.4 476.64 L436.4 475.84 L438.4 475.08 L440.4 474.37 L442.4 473.69 L444.4 473.06 L446.4 472.46 L448.4 471.89 L450.4 471.36 L452.4 470.85 L454.4 470.38 L456.4 469.94 L458.4 469.52 L460.4 469.13 L462.4 468.78 L464.4 468.45 L466.4 468.16 L468.4 467.90 L470.4 467.66 L472.4 467.44 L474.4 467.24 L476.4 467.05 L478.4 466.85 L480.4 466.64 L482.4 466.43 L484.4 466.20 L486.4 465.96 L488.4 465.71 L490.4 465.47 L492.4 465.24 L494.4 465.01 L496.4 464.81 L498.4 464.62 L500.4 464.45 L502.4 464.31 L504.4 464.19 L506.4 464.10 L508.4 464.03 L510.4 463.99 L512.4 463.96 L514.4 463.95 L516.4 463.96 L518.4 463.97 L520.4 464.01 L522.4 464.05 L524.4 464.12 L526.4 464.19 L528.4 464.28 L530.4 464.37 L531.0 464.40" fill="none" stroke="#5b9bd5" stroke-width="1.8" stroke-linejoin="round"/>
<line x1="224.5" y1="321.2" x2="224.5" y2="574.5" stroke="#ff0000" stroke-width="3" stroke-dasharray="7.9 2.97"/>
<line x1="242.8" y1="321.2" x2="242.8" y2="574.5" stroke="#ff0000" stroke-width="3" stroke-dasharray="7.9 2.97"/>
<text x="74.80" y="605.5" text-anchor="middle" font-size="15" fill="#1e1e1e" stroke="#1e1e1e" stroke-width="0.3">0</text>
<text x="139.54" y="605.5" text-anchor="middle" font-size="15" fill="#1e1e1e" stroke="#1e1e1e" stroke-width="0.3">0.2</text>
<text x="204.28" y="605.5" text-anchor="middle" font-size="15" fill="#1e1e1e" stroke="#1e1e1e" stroke-width="0.3">0.4</text>
<text x="269.02" y="605.5" text-anchor="middle" font-size="15" fill="#1e1e1e" stroke="#1e1e1e" stroke-width="0.3">0.6</text>
<text x="333.76" y="605.5" text-anchor="middle" font-size="15" fill="#1e1e1e" stroke="#1e1e1e" stroke-width="0.3">0.8</text>
<text x="398.50" y="605.5" text-anchor="middle" font-size="15" fill="#1e1e1e" stroke="#1e1e1e" stroke-width="0.3">1</text>
<text x="463.24" y="605.5" text-anchor="middle" font-size="15" fill="#1e1e1e" stroke="#1e1e1e" stroke-width="0.3">1.2</text>
<text x="527.98" y="605.5" text-anchor="middle" font-size="15" fill="#1e1e1e" stroke="#1e1e1e" stroke-width="0.3">1.4</text>
<text x="60.2" y="584.40" text-anchor="end" font-size="15" fill="#1e1e1e" stroke="#1e1e1e" stroke-width="0.3">-12</text>
<text x="60.2" y="541.60" text-anchor="end" font-size="15" fill="#1e1e1e" stroke="#1e1e1e" stroke-width="0.3">-8</text>
<text x="60.2" y="498.80" text-anchor="end" font-size="15" fill="#1e1e1e" stroke="#1e1e1e" stroke-width="0.3">-4</text>
<text x="60.2" y="456.00" text-anchor="end" font-size="15" fill="#1e1e1e" stroke="#1e1e1e" stroke-width="0.3">0</text>
<text x="60.2" y="413.20" text-anchor="end" font-size="15" fill="#1e1e1e" stroke="#1e1e1e" stroke-width="0.3">4</text>
<text x="60.2" y="370.40" text-anchor="end" font-size="15" fill="#1e1e1e" stroke="#1e1e1e" stroke-width="0.3">8</text>
<text x="60.2" y="327.60" text-anchor="end" font-size="15" fill="#1e1e1e" stroke="#1e1e1e" stroke-width="0.3">12</text>
<text transform="matrix(0.8996 0 0 1 517.32 351.40)" font-size="30" font-weight="bold" fill="#000" >b</text>
<text transform="matrix(0.9843 0 0 1 488.43 379.10)" font-size="21.5" font-weight="normal" fill="#1e1e1e" stroke="#fff" stroke-width="0.15">C/10</text>
<text transform="matrix(1.0638 0 0 1 262.18 370.90)" font-size="17" font-weight="normal" fill="#333333" stroke="#fff" stroke-width="0.15">Separator</text>
<text transform="matrix(0.9149 0 0 1 370.89 408.70)" font-size="21.5" font-weight="normal" fill="#1e1e1e" stroke="#fff" stroke-width="0.15">LTO</text>
<text transform="matrix(0.9127 0 0 1 130.79 490.00)" font-size="21.5" font-weight="normal" fill="#1e1e1e" stroke="#fff" stroke-width="0.15">LCO</text>
<text transform="matrix(1.1037 0 0 1 262.01 623.90)" font-size="16.5" font-weight="normal" fill="#1e1e1e" stroke="#1e1e1e" stroke-width="0.25">Depth (mm)</text>
<line x1="257.1" y1="361.3" x2="239.30" y2="378.01" stroke="#7a7a7a" stroke-width="1"/><path d="M234.2 382.8 L236.98 375.53 L241.63 380.49 Z" fill="#000"/>
<text transform="translate(13.70 572.13) rotate(-90) scale(1.1197 1)" font-size="15.8" fill="#1e1e1e" stroke="#1e1e1e" stroke-width="0.25"><tspan font-size="15.80" dy="0.00">Δc of Li</tspan><tspan font-size="9.80" dy="-6.00">+</tspan><tspan font-size="15.80" dy="6.00"> Relative to Initiation of</tspan></text>
<text transform="translate(36.80 522.62) rotate(-90) scale(1.0952 1)" font-size="15.8" fill="#1e1e1e" stroke="#1e1e1e" stroke-width="0.25"><tspan font-size="15.80" dy="0.00">Discharge (mol L</tspan><tspan font-size="9.80" dy="-6.00">-1</tspan><tspan font-size="15.80" dy="6.00">)</tspan></text>
<rect x="75" y="635" width="473" height="253" fill="none" stroke="#000" stroke-width="2"/>
<line x1="141.04" y1="888" x2="141.04" y2="882" stroke="#000" stroke-width="1.3"/>
<line x1="206.18" y1="888" x2="206.18" y2="882" stroke="#000" stroke-width="1.3"/>
<line x1="271.32" y1="888" x2="271.32" y2="882" stroke="#000" stroke-width="1.3"/>
<line x1="336.46" y1="888" x2="336.46" y2="882" stroke="#000" stroke-width="1.3"/>
<line x1="401.60" y1="888" x2="401.60" y2="882" stroke="#000" stroke-width="1.3"/>
<line x1="466.74" y1="888" x2="466.74" y2="882" stroke="#000" stroke-width="1.3"/>
<line x1="531.88" y1="888" x2="531.88" y2="882" stroke="#000" stroke-width="1.3"/>
<line x1="75" y1="846.80" x2="81" y2="846.80" stroke="#000" stroke-width="1.3"/>
<line x1="75" y1="804.40" x2="81" y2="804.40" stroke="#000" stroke-width="1.3"/>
<line x1="75" y1="762.00" x2="81" y2="762.00" stroke="#000" stroke-width="1.3"/>
<line x1="75" y1="719.60" x2="81" y2="719.60" stroke="#000" stroke-width="1.3"/>
<line x1="75" y1="677.20" x2="81" y2="677.20" stroke="#000" stroke-width="1.3"/>
<path d="M75.0 762.00 L223.5 762.00" fill="none" stroke="#c00000" stroke-width="1.8"/>
<path d="M227.7 762.00 L243.6 762.00" fill="none" stroke="#c00000" stroke-width="1.8"/>
<path d="M248.4 762.00 L535.8 762.00" fill="none" stroke="#c00000" stroke-width="1.8"/>
<path d="M75.5 751.70 L77.5 751.67 L79.5 751.64 L81.5 751.60 L83.5 751.57 L85.5 751.53 L87.5 751.50 L89.5 751.46 L91.5 751.41 L93.5 751.36 L95.5 751.30 L97.5 751.23 L99.5 751.15 L101.5 751.06 L103.5 750.95 L105.5 750.82 L107.5 750.68 L109.5 750.51 L111.5 750.33 L113.5 750.12 L115.5 749.91 L117.5 749.67 L119.5 749.42 L121.5 749.16 L123.5 748.89 L125.5 748.62 L127.5 748.34 L129.5 748.05 L131.5 747.77 L133.5 747.48 L135.5 747.19 L137.5 746.89 L139.5 746.59 L141.5 746.28 L143.5 745.96 L145.5 745.63 L147.5 745.28 L149.5 744.92 L151.5 744.54 L153.5 744.13 L155.5 743.71 L157.5 743.26 L159.5 742.79 L161.5 742.30 L163.5 741.78 L165.5 741.24 L167.5 740.67 L169.5 740.08 L171.5 739.46 L173.5 738.82 L175.5 738.15 L177.5 737.45 L179.5 736.73 L181.5 735.99 L183.5 735.23 L185.5 734.45 L187.5 733.65 L189.5 732.84 L191.5 732.02 L193.5 731.19 L195.5 730.35 L197.5 729.51 L199.5 728.67 L201.5 727.82 L203.5 726.96 L205.5 726.10 L207.5 725.23 L209.5 724.35 L211.5 723.46 L213.5 722.56 L215.5 721.66 L217.5 720.75 L219.5 719.84 L221.5 718.92 L223.5 718.00" fill="none" stroke="#ed7d31" stroke-width="1.8" stroke-linejoin="round"/>
<path d="M248.4 803.40 L250.4 801.95 L252.4 800.51 L254.4 799.08 L256.4 797.69 L258.4 796.32 L260.4 795.00 L262.4 793.72 L264.4 792.49 L266.4 791.32 L268.4 790.21 L270.4 789.16 L272.4 788.16 L274.4 787.23 L276.4 786.36 L278.4 785.54 L280.4 784.78 L282.4 784.07 L284.4 783.41 L286.4 782.79 L288.4 782.22 L290.4 781.68 L292.4 781.17 L294.4 780.69 L296.4 780.22 L298.4 779.76 L300.4 779.31 L302.4 778.86 L304.4 778.42 L306.4 777.98 L308.4 777.54 L310.4 777.09 L312.4 776.65 L314.4 776.21 L316.4 775.77 L318.4 775.34 L320.4 774.91 L322.4 774.49 L324.4 774.07 L326.4 773.66 L328.4 773.26 L330.4 772.87 L332.4 772.48 L334.4 772.10 L336.4 771.72 L338.4 771.35 L340.3 771.00 L342.3 770.95 L344.3 770.89 L346.3 770.84 L348.3 770.78 L350.3 770.72 L352.3 770.65 L354.3 770.56 L356.3 770.46 L358.3 770.34 L360.3 770.19 L362.3 770.02 L364.3 769.83 L366.3 769.61 L368.3 769.39 L370.3 769.15 L372.3 768.90 L374.3 768.66 L376.3 768.41 L378.3 768.18 L380.3 767.95 L382.3 767.74 L384.3 767.54 L386.3 767.35 L388.3 767.18 L390.3 767.03 L392.3 766.88 L394.3 766.75 L396.3 766.62 L398.3 766.50 L400.3 766.38 L402.3 766.27 L404.3 766.16 L406.3 766.05 L408.3 765.95 L410.3 765.84 L412.3 765.74 L414.3 765.63 L416.3 765.53 L418.3 765.43 L420.3 765.32 L422.3 765.22 L424.3 765.12 L426.3 765.02 L428.3 764.93 L430.3 764.83 L432.3 764.74 L434.3 764.65 L436.3 764.56 L438.3 764.48 L440.3 764.39 L442.3 764.31 L444.3 764.23 L446.3 764.15 L448.3 764.08 L450.3 764.00 L452.3 763.93 L454.3 763.86 L456.3 763.79 L458.3 763.73 L460.3 763.68 L462.3 763.63 L464.3 763.59 L466.3 763.55 L468.3 763.53 L470.3 763.51 L472.3 763.49 L474.3 763.48 L476.3 763.47 L478.3 763.47 L480.3 763.46 L482.3 763.46 L484.3 763.46 L486.3 763.45 L488.3 763.45 L490.3 763.45 L492.3 763.45 L494.3 763.45 L496.3 763.44 L498.3 763.44 L500.3 763.44 L502.3 763.44 L504.3 763.43 L506.3 763.43 L508.3 763.43 L510.3 763.43 L512.3 763.43 L514.3 763.42 L516.3 763.42 L518.3 763.42 L520.3 763.42 L522.3 763.42 L524.3 763.41 L526.3 763.41 L528.3 763.41 L530.3 763.41 L532.3 763.40 L534.3 763.40 L535.8 763.40" fill="none" stroke="#ed7d31" stroke-width="1.8" stroke-linejoin="round"/>
<path d="M75.5 737.90 L77.5 737.83 L79.5 737.76 L81.5 737.69 L83.5 737.61 L85.5 737.54 L87.5 737.46 L89.5 737.38 L91.5 737.28 L93.5 737.19 L95.5 737.07 L97.5 736.95 L99.5 736.81 L101.5 736.64 L103.5 736.46 L105.5 736.25 L107.5 736.01 L109.5 735.75 L111.5 735.45 L113.5 735.13 L115.5 734.78 L117.5 734.40 L119.5 734.00 L121.5 733.58 L123.5 733.13 L125.5 732.67 L127.5 732.18 L129.5 731.68 L131.5 731.16 L133.5 730.62 L135.5 730.06 L137.5 729.47 L139.5 728.86 L141.5 728.22 L143.5 727.55 L145.5 726.85 L147.5 726.11 L149.5 725.33 L151.5 724.52 L153.5 723.67 L155.5 722.79 L157.5 721.87 L159.5 720.92 L161.5 719.93 L163.5 718.93 L165.5 717.89 L167.5 716.83 L169.5 715.75 L171.5 714.65 L173.5 713.53 L175.5 712.38 L177.5 711.21 L179.5 710.02 L181.5 708.80 L183.5 707.57 L185.5 706.31 L187.5 705.03 L189.5 703.73 L191.5 702.41 L193.5 701.07 L195.5 699.70 L197.5 698.31 L199.5 696.88 L201.5 695.41 L203.5 693.91 L205.5 692.35 L207.5 690.75 L209.5 689.10 L211.5 687.39 L213.5 685.64 L215.5 683.85 L217.5 682.02 L219.5 680.16 L221.5 678.29 L223.5 676.40" fill="none" stroke="#00b050" stroke-width="1.8" stroke-linejoin="round"/>
<path d="M248.4 852.60 L250.4 850.71 L252.4 848.81 L254.4 846.90 L256.4 844.98 L258.4 843.04 L260.4 841.08 L262.4 839.12 L264.4 837.17 L266.4 835.21 L268.4 833.27 L270.4 831.34 L272.4 829.42 L274.4 827.51 L276.4 825.62 L278.4 823.74 L280.4 821.87 L282.4 820.03 L284.4 818.21 L286.4 816.41 L288.4 814.65 L290.4 812.91 L292.4 811.21 L294.4 809.55 L296.4 807.91 L298.4 806.32 L300.4 804.75 L302.4 803.22 L304.4 801.73 L306.4 800.26 L308.4 798.83 L310.4 797.43 L312.4 796.05 L314.4 794.71 L316.4 793.40 L318.4 792.13 L320.4 790.91 L322.4 789.75 L324.4 788.66 L326.4 787.64 L328.4 786.71 L330.4 785.87 L332.4 785.11 L334.4 784.44 L336.4 783.82 L338.4 783.25 L340.3 782.85 L342.3 782.54 L344.3 782.23 L346.3 781.92 L348.3 781.61 L350.3 781.29 L352.3 780.95 L354.3 780.58 L356.3 780.19 L358.3 779.77 L360.3 779.31 L362.3 778.82 L364.3 778.31 L366.3 777.77 L368.3 777.21 L370.3 776.65 L372.3 776.08 L374.3 775.52 L376.3 774.97 L378.3 774.44 L380.3 773.92 L382.3 773.44 L384.3 772.98 L386.3 772.55 L388.3 772.16 L390.3 771.80 L392.3 771.48 L394.3 771.18 L396.3 770.90 L398.3 770.64 L400.3 770.41 L402.3 770.18 L404.3 769.96 L406.3 769.74 L408.3 769.53 L410.3 769.31 L412.3 769.09 L414.3 768.86 L416.3 768.63 L418.3 768.39 L420.3 768.15 L422.3 767.91 L424.3 767.68 L426.3 767.44 L428.3 767.21 L430.3 767.00 L432.3 766.79 L434.3 766.59 L436.3 766.41 L438.3 766.24 L440.3 766.07 L442.3 765.92 L444.3 765.78 L446.3 765.64 L448.3 765.51 L450.3 765.39 L452.3 765.27 L454.3 765.15 L456.3 765.05 L458.3 764.95 L460.3 764.87 L462.3 764.79 L464.3 764.73 L466.3 764.68 L468.3 764.64 L470.3 764.61 L472.3 764.59 L474.3 764.57 L476.3 764.57 L478.3 764.56 L480.3 764.56 L482.3 764.55 L484.3 764.55 L486.3 764.55 L488.3 764.55 L490.3 764.55 L492.3 764.55 L494.3 764.54 L496.3 764.54 L498.3 764.54 L500.3 764.54 L502.3 764.54 L504.3 764.53 L506.3 764.53 L508.3 764.53 L510.3 764.53 L512.3 764.53 L514.3 764.52 L516.3 764.52 L518.3 764.52 L520.3 764.52 L522.3 764.52 L524.3 764.51 L526.3 764.51 L528.3 764.51 L530.3 764.51 L532.3 764.50 L534.3 764.50 L535.8 764.50" fill="none" stroke="#00b050" stroke-width="1.8" stroke-linejoin="round"/>
<path d="M75.5 723.40 L77.5 723.30 L79.5 723.20 L81.5 723.09 L83.5 722.97 L85.5 722.84 L87.5 722.69 L89.5 722.52 L91.5 722.33 L93.5 722.12 L95.5 721.87 L97.5 721.60 L99.5 721.30 L101.5 720.97 L103.5 720.61 L105.5 720.21 L107.5 719.78 L109.5 719.32 L111.5 718.82 L113.5 718.28 L115.5 717.71 L117.5 717.10 L119.5 716.45 L121.5 715.77 L123.5 715.04 L125.5 714.29 L127.5 713.49 L129.5 712.66 L131.5 711.80 L133.5 710.90 L135.5 709.97 L137.5 709.01 L139.5 708.02 L141.5 706.99 L143.5 705.94 L145.5 704.85 L147.5 703.72 L149.5 702.56 L151.5 701.35 L153.5 700.11 L155.5 698.81 L157.5 697.48 L159.5 696.10 L161.5 694.68 L163.5 693.23 L165.5 691.75 L167.5 690.25 L169.5 688.72 L171.5 687.18 L173.5 685.61 L175.5 684.01 L177.5 682.39 L179.5 680.76 L181.5 679.10 L183.5 677.43 L185.5 675.75 L187.5 674.07 L189.5 672.41 L191.5 670.78 L193.5 669.18 L195.5 667.65 L197.5 666.18 L199.5 664.80 L201.5 663.52 L203.5 662.33 L205.5 661.26 L207.5 660.31 L209.5 659.46 L211.5 658.71 L213.5 658.06 L215.5 657.49 L217.5 656.98 L219.5 656.53 L221.5 656.10 L223.5 655.69" fill="none" stroke="#7030a0" stroke-width="1.8" stroke-linejoin="round"/>
<path d="M248.4 863.20 L250.4 863.16 L252.4 863.12 L254.4 863.08 L256.4 863.03 L258.4 862.99 L260.4 862.92 L262.4 862.83 L264.4 862.70 L266.4 862.50 L268.4 862.20 L270.4 861.78 L272.4 861.22 L274.4 860.48 L276.4 859.55 L278.4 858.42 L280.4 857.11 L282.4 855.62 L284.4 853.97 L286.4 852.19 L288.4 850.30 L290.4 848.31 L292.4 846.25 L294.4 844.15 L296.4 842.01 L298.4 839.85 L300.4 837.69 L302.4 835.55 L304.4 833.42 L306.4 831.29 L308.4 829.17 L310.4 827.04 L312.4 824.90 L314.4 822.74 L316.4 820.59 L318.4 818.45 L320.4 816.34 L322.4 814.29 L324.4 812.30 L326.4 810.38 L328.4 808.54 L330.4 806.78 L332.4 805.08 L334.4 803.44 L336.4 801.83 L338.2 800.40 L340.2 799.62 L342.2 798.84 L344.2 798.06 L346.2 797.29 L348.2 796.52 L350.2 795.75 L352.2 794.97 L354.2 794.19 L356.2 793.40 L358.2 792.60 L360.2 791.78 L362.2 790.96 L364.2 790.13 L366.2 789.30 L368.2 788.47 L370.2 787.65 L372.2 786.85 L374.2 786.05 L376.2 785.28 L378.2 784.53 L380.2 783.79 L382.2 783.07 L384.2 782.37 L386.2 781.68 L388.2 781.00 L390.2 780.34 L392.2 779.69 L394.2 779.06 L396.2 778.44 L398.2 777.83 L400.2 777.24 L402.2 776.66 L404.2 776.10 L406.2 775.55 L408.2 775.01 L410.2 774.49 L412.2 773.98 L414.2 773.48 L416.2 772.99 L418.2 772.52 L420.2 772.06 L422.2 771.62 L424.2 771.19 L426.2 770.78 L428.2 770.38 L430.2 770.01 L432.2 769.65 L434.2 769.32 L436.2 769.00 L438.2 768.71 L440.2 768.43 L442.2 768.17 L444.2 767.92 L446.2 767.70 L448.2 767.48 L450.2 767.28 L452.2 767.08 L454.2 766.90 L456.2 766.73 L458.2 766.56 L460.2 766.42 L462.2 766.28 L464.2 766.17 L466.2 766.07 L468.2 766.00 L470.2 765.95 L472.2 765.91 L474.2 765.89 L476.2 765.88 L478.2 765.87 L480.2 765.88 L482.2 765.88 L484.2 765.89 L486.2 765.90 L488.2 765.90 L490.2 765.91 L492.2 765.92 L494.2 765.92 L496.2 765.93 L498.2 765.93 L500.2 765.93 L502.2 765.94 L504.2 765.94 L506.2 765.94 L508.2 765.95 L510.2 765.95 L512.2 765.96 L514.2 765.96 L516.2 765.96 L518.2 765.97 L520.2 765.97 L522.2 765.98 L524.2 765.98 L526.2 765.98 L528.2 765.99 L530.2 765.99 L532.2 765.99 L534.2 766.00 L535.8 766.00" fill="none" stroke="#7030a0" stroke-width="1.8" stroke-linejoin="round"/>
<path d="M75.5 716.90 L77.5 716.56 L79.5 716.22 L81.5 715.84 L83.5 715.41 L85.5 714.92 L87.5 714.35 L89.5 713.69 L91.5 712.96 L93.5 712.16 L95.5 711.30 L97.5 710.38 L99.5 709.40 L101.5 708.32 L103.5 707.12 L105.5 705.77 L107.5 704.24 L109.5 702.51 L111.5 700.62 L113.5 698.58 L115.5 696.44 L117.5 694.23 L119.5 691.96 L121.5 689.64 L123.5 687.27 L125.5 684.81 L127.5 682.21 L129.5 679.41 L131.5 676.36 L133.5 673.04 L135.5 669.50 L136.6 667.50 L138.6 665.42 L140.6 663.48 L142.6 661.80 L144.6 660.39 L146.6 659.25 L148.6 658.33 L150.6 657.57 L152.6 656.94 L154.6 656.39 L156.6 655.92 L158.6 655.48 L160.6 655.09 L162.6 654.72 L164.6 654.39 L166.6 654.07 L168.6 653.78 L170.6 653.50 L172.6 653.23 L174.6 652.97 L176.6 652.71 L178.6 652.45 L180.6 652.18 L182.6 651.92 L184.6 651.65 L186.6 651.39 L188.6 651.12 L190.6 650.87 L192.6 650.63 L194.6 650.39 L196.6 650.17 L198.6 649.95 L200.6 649.75 L202.6 649.54 L204.6 649.35 L206.6 649.15 L208.6 648.96 L210.6 648.77 L212.6 648.59 L214.6 648.40 L216.6 648.22 L218.6 648.04 L220.6 647.86 L222.6 647.68 L223.5 647.60" fill="none" stroke="#5b9bd5" stroke-width="1.8" stroke-linejoin="round"/>
<path d="M227.7 759.90 L243.6 761.30" fill="none" stroke="#5b9bd5" stroke-width="1.8"/>
<path d="M248.4 864.30 L250.4 864.21 L252.4 864.12 L254.4 864.03 L256.4 863.94 L258.4 863.85 L260.4 863.77 L262.4 863.68 L264.4 863.60 L266.4 863.52 L268.4 863.43 L270.4 863.35 L272.4 863.27 L274.4 863.18 L276.4 863.10 L278.4 863.01 L280.4 862.93 L282.4 862.84 L284.4 862.76 L286.4 862.68 L288.4 862.60 L290.4 862.52 L292.4 862.45 L294.4 862.37 L296.4 862.29 L298.4 862.19 L300.4 862.06 L302.4 861.89 L304.4 861.64 L306.4 861.29 L308.4 860.81 L310.4 860.16 L312.4 859.32 L314.4 858.26 L316.4 857.00 L318.4 855.52 L320.4 853.87 L322.4 852.06 L324.4 850.12 L326.4 848.08 L328.4 845.96 L330.4 843.80 L332.4 841.61 L334.4 839.41 L336.4 837.21 L338.4 835.04 L340.4 832.90 L342.4 830.82 L344.4 828.79 L346.4 826.83 L348.4 824.93 L350.4 823.07 L352.4 821.26 L354.4 819.47 L356.4 817.72 L358.4 815.98 L360.4 814.27 L362.4 812.59 L364.4 810.92 L366.4 809.29 L368.4 807.68 L370.4 806.11 L372.4 804.58 L374.4 803.08 L376.4 801.62 L378.4 800.21 L380.4 798.84 L382.4 797.51 L384.4 796.22 L386.4 794.97 L388.4 793.76 L390.4 792.59 L392.4 791.46 L394.4 790.38 L396.4 789.33 L398.4 788.33 L400.4 787.36 L402.4 786.44 L404.4 785.55 L406.4 784.70 L408.4 783.89 L410.4 783.10 L412.4 782.35 L414.4 781.62 L416.4 780.93 L418.4 780.26 L420.4 779.61 L422.4 778.98 L424.4 778.37 L426.4 777.78 L428.4 777.20 L430.4 776.63 L432.4 776.08 L434.4 775.55 L436.4 775.03 L438.4 774.53 L440.4 774.06 L442.4 773.61 L444.4 773.19 L446.4 772.80 L448.4 772.43 L450.4 772.10 L452.4 771.78 L454.4 771.50 L456.4 771.24 L458.4 770.99 L460.4 770.77 L462.4 770.56 L464.4 770.36 L466.4 770.18 L468.4 770.01 L470.4 769.85 L472.4 769.70 L474.4 769.56 L476.4 769.43 L478.4 769.30 L480.4 769.18 L482.4 769.07 L484.4 768.96 L486.4 768.87 L488.4 768.79 L490.4 768.72 L492.4 768.66 L494.4 768.60 L496.4 768.56 L498.4 768.53 L500.4 768.50 L502.4 768.47 L504.4 768.45 L506.4 768.43 L508.4 768.41 L510.4 768.39 L512.4 768.38 L514.4 768.36 L516.4 768.35 L518.4 768.33 L520.4 768.32 L522.4 768.30 L524.4 768.29 L526.4 768.27 L528.4 768.26 L530.4 768.24 L532.4 768.23 L534.4 768.21 L535.8 768.20" fill="none" stroke="#5b9bd5" stroke-width="1.8" stroke-linejoin="round"/>
<line x1="226.1" y1="635.1" x2="226.1" y2="888" stroke="#ff0000" stroke-width="3" stroke-dasharray="7.9 2.97"/>
<line x1="245.2" y1="635.1" x2="245.2" y2="888" stroke="#ff0000" stroke-width="3" stroke-dasharray="7.9 2.97"/>
<text x="75.90" y="915.0" text-anchor="middle" font-size="15" fill="#1e1e1e" stroke="#1e1e1e" stroke-width="0.3">0</text>
<text x="141.04" y="915.0" text-anchor="middle" font-size="15" fill="#1e1e1e" stroke="#1e1e1e" stroke-width="0.3">0.2</text>
<text x="206.18" y="915.0" text-anchor="middle" font-size="15" fill="#1e1e1e" stroke="#1e1e1e" stroke-width="0.3">0.4</text>
<text x="271.32" y="915.0" text-anchor="middle" font-size="15" fill="#1e1e1e" stroke="#1e1e1e" stroke-width="0.3">0.6</text>
<text x="336.46" y="915.0" text-anchor="middle" font-size="15" fill="#1e1e1e" stroke="#1e1e1e" stroke-width="0.3">0.8</text>
<text x="401.60" y="915.0" text-anchor="middle" font-size="15" fill="#1e1e1e" stroke="#1e1e1e" stroke-width="0.3">1</text>
<text x="466.74" y="915.0" text-anchor="middle" font-size="15" fill="#1e1e1e" stroke="#1e1e1e" stroke-width="0.3">1.2</text>
<text x="531.88" y="915.0" text-anchor="middle" font-size="15" fill="#1e1e1e" stroke="#1e1e1e" stroke-width="0.3">1.4</text>
<text x="59.8" y="894.60" text-anchor="end" font-size="15" fill="#1e1e1e" stroke="#1e1e1e" stroke-width="0.3">-12</text>
<text x="59.8" y="852.20" text-anchor="end" font-size="15" fill="#1e1e1e" stroke="#1e1e1e" stroke-width="0.3">-8</text>
<text x="59.8" y="809.80" text-anchor="end" font-size="15" fill="#1e1e1e" stroke="#1e1e1e" stroke-width="0.3">-4</text>
<text x="59.8" y="767.40" text-anchor="end" font-size="15" fill="#1e1e1e" stroke="#1e1e1e" stroke-width="0.3">0</text>
<text x="59.8" y="725.00" text-anchor="end" font-size="15" fill="#1e1e1e" stroke="#1e1e1e" stroke-width="0.3">4</text>
<text x="59.8" y="682.60" text-anchor="end" font-size="15" fill="#1e1e1e" stroke="#1e1e1e" stroke-width="0.3">8</text>
<text x="59.8" y="640.20" text-anchor="end" font-size="15" fill="#1e1e1e" stroke="#1e1e1e" stroke-width="0.3">12</text>
<text transform="matrix(0.8200 0 0 1 512.04 665.00)" font-size="30" font-weight="bold" fill="#000" >c</text>
<text transform="matrix(0.9694 0 0 1 496.34 700.80)" font-size="21.5" font-weight="normal" fill="#1e1e1e" stroke="#fff" stroke-width="0.15">C/5</text>
<text transform="matrix(1.0625 0 0 1 262.28 684.00)" font-size="17" font-weight="normal" fill="#333333" stroke="#fff" stroke-width="0.15">Separator</text>
<text transform="matrix(0.9328 0 0 1 370.15 722.80)" font-size="21.5" font-weight="normal" fill="#1e1e1e" stroke="#fff" stroke-width="0.15">LTO</text>
<text transform="matrix(0.9127 0 0 1 130.79 803.20)" font-size="21.5" font-weight="normal" fill="#1e1e1e" stroke="#fff" stroke-width="0.15">LCO</text>
<text transform="matrix(1.0954 0 0 1 266.02 933.90)" font-size="16.5" font-weight="normal" fill="#1e1e1e" stroke="#1e1e1e" stroke-width="0.25">Depth (mm)</text>
<line x1="256.9" y1="675.3" x2="238.78" y2="691.79" stroke="#7a7a7a" stroke-width="1"/><path d="M233.6 696.5 L236.49 689.27 L241.07 694.30 Z" fill="#000"/>
<text transform="translate(13.70 884.03) rotate(-90) scale(1.1188 1)" font-size="15.8" fill="#1e1e1e" stroke="#1e1e1e" stroke-width="0.25"><tspan font-size="15.80" dy="0.00">Δc of Li</tspan><tspan font-size="9.80" dy="-6.00">+</tspan><tspan font-size="15.80" dy="6.00"> Relative to Initiation of</tspan></text>
<text transform="translate(36.80 834.00) rotate(-90) scale(1.0823 1)" font-size="15.8" fill="#1e1e1e" stroke="#1e1e1e" stroke-width="0.25"><tspan font-size="15.80" dy="0.00">Discharge (mol L</tspan><tspan font-size="9.80" dy="-6.00">-1</tspan><tspan font-size="15.80" dy="6.00">)</tspan></text>
</svg>
</body></html>
